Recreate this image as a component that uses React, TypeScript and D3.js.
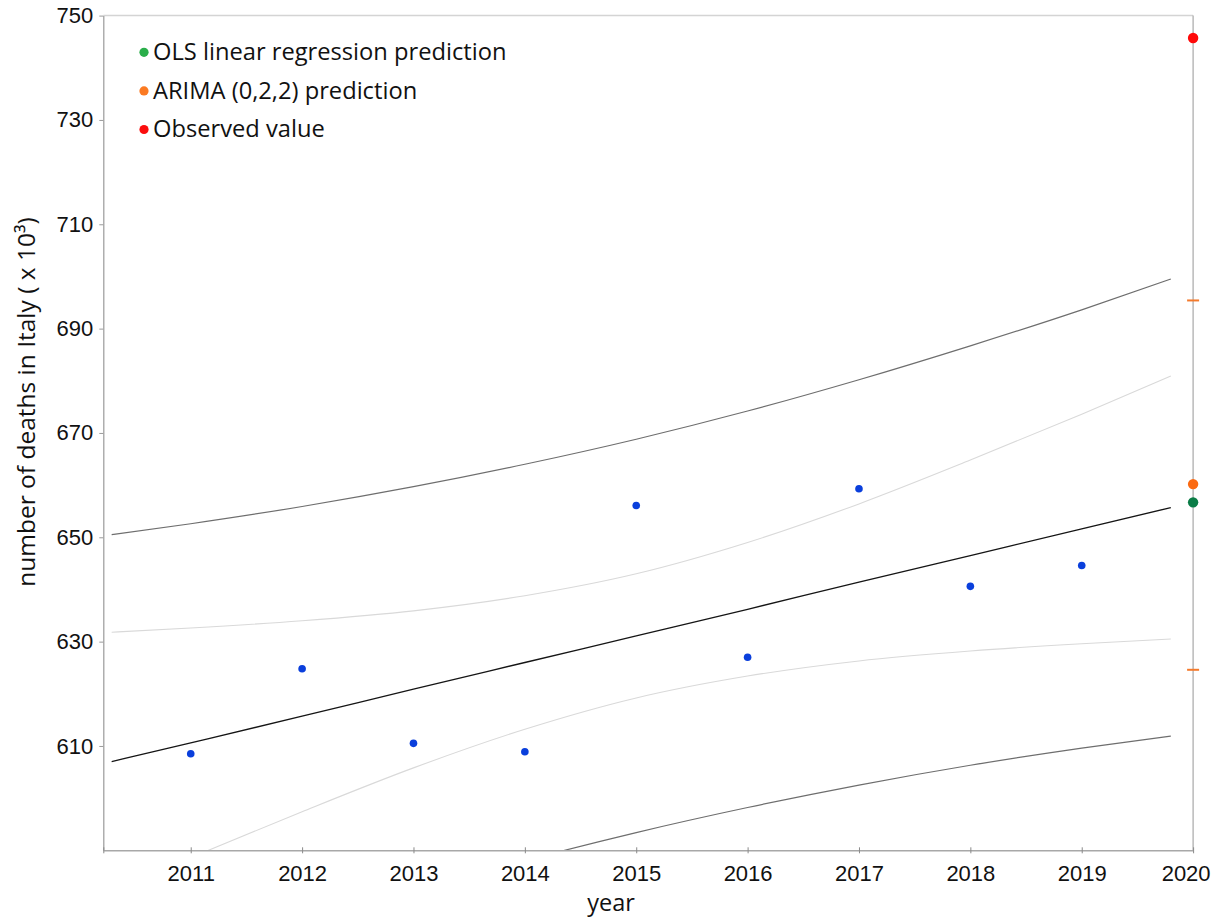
import React, { useEffect, useRef } from 'react';
import * as d3 from 'd3';

// observed deaths 2011-2019 (thousands)
const YEARS = [2011, 2012, 2013, 2014, 2015, 2016, 2017, 2018, 2019];
const DEATHS = [608.5, 624.8, 610.5, 608.9, 656.1, 627.0, 659.3, 640.6, 644.6];

// regression line and its bands
const BAND_X = [2010.29, 2011, 2012, 2013, 2014, 2015, 2016, 2017, 2018, 2019, 2019.8];
const FIT = [607.0, 610.6, 615.7, 620.9, 626.0, 631.1, 636.2, 641.4, 646.5, 651.6, 655.7];
const PI_UPPER = [650.5, 652.6, 655.9, 659.7, 664.0, 668.8, 674.2, 680.2, 686.7, 693.6, 699.5];
const PI_LOWER = [563.4, 568.6, 575.5, 582.0, 588.0, 593.4, 598.2, 602.5, 606.3, 609.6, 611.9];
const CI_UPPER = [631.8, 632.6, 634.0, 635.9, 638.8, 643.0, 649.0, 656.4, 664.8, 673.6, 680.9];
const CI_LOWER = [582.1, 588.6, 597.4, 605.8, 613.2, 619.2, 623.4, 626.3, 628.2, 629.6, 630.5];

// 2020 forecasts and observation
const FORECAST_YEAR = 2020;
const OLS_2020 = 656.7;
const ARIMA_2020 = 660.2;
const ARIMA_BOUNDS = [624.6, 695.4];
const OBSERVED_2020 = 745.7;

const X_TICKS = [2011, 2012, 2013, 2014, 2015, 2016, 2017, 2018, 2019, 2020];
const Y_TICKS = [610, 630, 650, 670, 690, 710, 730, 750];
const LEGEND_LABELS = ['OLS linear regression prediction', 'ARIMA (0,2,2) prediction', 'Observed value'];

const W = 1211;
const H = 917;
const TICK_FONT = '"Liberation Sans", Arial, sans-serif';
const TEXT_FONT = '"Open Sans", Lato, sans-serif';
const LEGEND_COLORS = ['#2aae4a', '#fb7a22', '#fb0d0d'];

export default function App() {
  const xAxisRef = useRef<SVGGElement>(null);
  const yAxisRef = useRef<SVGGElement>(null);

  const x = d3.scaleLinear().domain([2010.215, 2020]).range([103.3, 1193.1]);
  const y = d3.scaleLinear().domain([590, 750]).range([850.3, 15.6]);

  useEffect(() => {
    if (!xAxisRef.current || !yAxisRef.current) return;

    const xAxis = d3.axisBottom(x)
      .tickValues([x.domain()[0], ...X_TICKS])
      .tickSizeInner(3)
      .tickSizeOuter(0)
      .tickFormat((d: any) => (d >= 2011 ? String(d) : ''));

    const gx = d3.select(xAxisRef.current);
    gx.selectAll('*').remove();
    gx.call(xAxis as any);
    gx.select('.domain').attr('stroke', '#a8a8a8').attr('stroke-width', 1.5);
    gx.selectAll('.tick line').attr('stroke', '#8a8a8a').attr('y1', -3).attr('y2', 3);
    gx.selectAll('.tick text')
      .attr('y', 15)
      .attr('fill', '#111')
      .style('font-family', TICK_FONT)
      .style('font-size', '22px');
    // last label sits against the right edge of the picture
    gx.selectAll<SVGTextElement, number>('.tick text')
      .filter(d => d === 2020)
      .attr('text-anchor', 'end')
      .attr('x', 17);

    const yAxis = d3.axisLeft(y)
      .tickValues(Y_TICKS)
      .tickSizeInner(4)
      .tickSizeOuter(0)
      .tickPadding(6)
      .tickFormat((d: any) => String(d));

    const gy = d3.select(yAxisRef.current);
    gy.selectAll('*').remove();
    gy.call(yAxis as any);
    gy.select('.domain').attr('stroke', '#9a9a9a').attr('stroke-width', 1.2);
    gy.selectAll('.tick line').attr('stroke', '#9a9a9a');
    gy.selectAll('.tick text')
      .attr('fill', '#111')
      .style('font-family', TICK_FONT)
      .style('font-size', '22px');
  }, []);

  const band = (vals: number[]) =>
    d3.line<number>()
      .x((_, i) => x(BAND_X[i]))
      .y(d => y(d))
      .curve(d3.curveMonotoneX)(vals) || '';

  const [x0, x1] = x.range();
  const [yb, yt] = y.range();
  const xEnd = x(FORECAST_YEAR);

  return (
    <svg
      width={W}
      height={H}
      style={{ position: 'absolute', left: 0, top: 0, background: '#fff' }}
    >
      <defs>
        <clipPath id="plot-clip">
          <rect x={x0} y={yt} width={x1 - x0} height={yb - yt} />
        </clipPath>
      </defs>

      {/* frame: top border and right axis */}
      <line x1={x0} x2={x1} y1={yt} y2={yt} stroke="#d4d4d4" strokeWidth={1.5} />
      <line x1={xEnd} x2={xEnd} y1={yt} y2={yb} stroke="#a8a8a8" strokeWidth={1.2} />

      <g clipPath="url(#plot-clip)" fill="none">
        <path d={band(CI_UPPER)} stroke="#d9d9d9" strokeWidth={1.1} />
        <path d={band(CI_LOWER)} stroke="#d9d9d9" strokeWidth={1.1} />
        <path d={band(PI_UPPER)} stroke="#6e6e6e" strokeWidth={1.2} />
        <path d={band(PI_LOWER)} stroke="#6e6e6e" strokeWidth={1.2} />
        <path d={band(FIT)} stroke="#151515" strokeWidth={1.3} />
      </g>

      <g ref={yAxisRef} transform={`translate(${x0},0)`} />
      <g ref={xAxisRef} transform={`translate(0,${yb})`} />

      {/* observed points */}
      {YEARS.map((yr, i) => (
        <circle key={yr} cx={x(yr)} cy={y(DEATHS[i])} r={3.8} fill="#0a3fdc" />
      ))}

      {/* ARIMA interval marks */}
      {ARIMA_BOUNDS.map(v => (
        <line
          key={v}
          x1={xEnd - 6}
          x2={xEnd + 6}
          y1={y(v)}
          y2={y(v)}
          stroke="#f47a2c"
          strokeWidth={2}
        />
      ))}

      {/* 2020 values */}
      <circle cx={xEnd} cy={y(ARIMA_2020)} r={5.2} fill="#fb6a12" />
      <circle cx={xEnd} cy={y(OLS_2020)} r={5.2} fill="#0a7c46" />
      <circle cx={xEnd} cy={y(OBSERVED_2020)} r={5.2} fill="#ff0a0a" />

      {/* legend */}
      {LEGEND_LABELS.map((label, i) => (
        <g key={label} transform={`translate(144,${52.3 + i * 38.6})`}>
          <circle r={4.6} fill={LEGEND_COLORS[i]} />
          <text
            x={9}
            y={7.8}
            fill="#111"
            style={{ fontFamily: TEXT_FONT, fontSize: '23.7px' }}
          >
            {label}
          </text>
        </g>
      ))}

      {/* axis titles */}
      <text
        transform="translate(35,402) rotate(-90)"
        textAnchor="middle"
        fill="#111"
        style={{ fontFamily: TEXT_FONT, fontSize: '24.5px' }}
      >
        number of deaths in Italy ( x 10³)
      </text>
      <text
        x={611}
        y={911}
        textAnchor="middle"
        fill="#111"
        style={{ fontFamily: TEXT_FONT, fontSize: '23.5px' }}
      >
        year
      </text>
    </svg>
  );
}
